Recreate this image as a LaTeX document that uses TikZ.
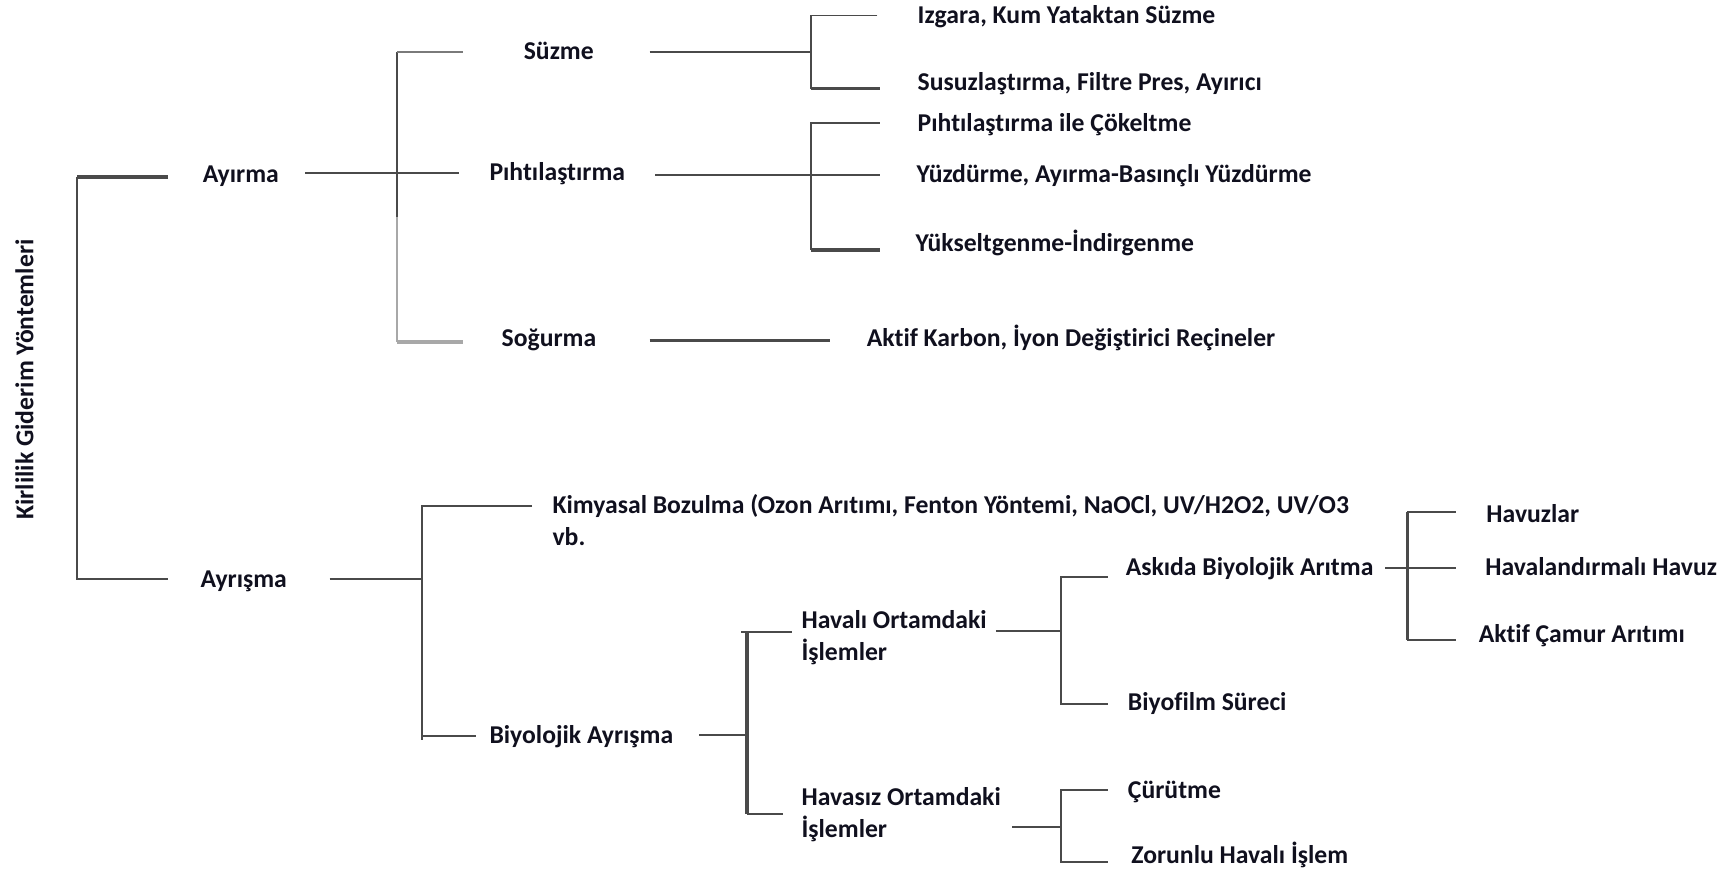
\documentclass[tikz,border=0pt]{standalone}
\usepackage{fontspec}
\setmainfont{Carlito}[Ligatures=NoCommon]
\definecolor{lndark}{HTML}{4A4A4A}
\definecolor{lnmid}{HTML}{7A7A7A}
\definecolor{lnlight}{HTML}{A8A8A8}
\definecolor{txt}{HTML}{10101E}
\begin{document}
\begin{tikzpicture}[x=0.5pt,y=-0.5pt,
  lbl/.style={anchor=base west,inner sep=0pt,text=txt,
    font=\fontsize{11.6}{14.5}\selectfont\bfseries,align=left},
  ln/.style={draw=lndark,line width=0.9pt},
  lnthick/.style={draw=lndark,line width=1.5pt},
  lngray/.style={draw=lnmid,line width=0.9pt},
  lnpale/.style={draw=lnlight,line width=1.5pt},
  lnpalev/.style={draw=lnlight,line width=1pt}]
\useasboundingbox (0,0) rectangle (1568,789);

% vertical title
\node[rotate=90,inner sep=0pt,text=txt,font=\fontsize{11.6}{14}\selectfont\bfseries]
  (title) at (22,343) {Kirlilik Giderim Yöntemleri};

% labels (baseline of the last line)
\node[lbl] (ayirma)   at (183,165) {Ayırma};
\node[lbl] (ayrisma)  at (181,531) {Ayrışma};
\node[lbl] (suzme)    at (473,54)  {Süzme};
\node[lbl] (pihti)    at (442,163) {Pıhtılaştırma};
\node[lbl] (sogurma)  at (453,313) {Soğurma};
\node[lbl] (izgara)   at (829,21)  {Izgara, Kum Yataktan Süzme};
\node[lbl] (susuz)    at (829,82)  {Susuzlaştırma, Filtre Pres, Ayırıcı};
\node[lbl] (pihtiile) at (829,119) {Pıhtılaştırma ile Çökeltme};
\node[lbl] (yuzdur)   at (828,165) {Yüzdürme, Ayırma-Basınçlı Yüzdürme};
\node[lbl] (yukselt)  at (827,227) {Yükseltgenme-İndirgenme};
\node[lbl] (aktifk)   at (783,313) {Aktif Karbon, İyon Değiştirici Reçineler};
\node[lbl] (kimyasal) at (499,493) {Kimyasal Bozulma (Ozon Arıtımı, Fenton Yöntemi, NaOCl, UV/H2O2, UV/O3\\vb.};
\node[lbl] (biyoayr)  at (442,672) {Biyolojik Ayrışma};
\node[lbl] (havali)   at (724,597) {Havalı Ortamdaki\\İşlemler};
\node[lbl] (havasiz)  at (724,757) {Havasız Ortamdaki\\İşlemler};
\node[lbl] (askida)   at (1017,520) {Askıda Biyolojik Arıtma};
\node[lbl] (biyofilm) at (1019,642) {Biyofilm Süreci};
\node[lbl] (havuzlar) at (1343,472) {Havuzlar};
\node[lbl] (havalan)  at (1342,520) {Havalandırmalı Havuz};
\node[lbl] (aktifc)   at (1336,581) {Aktif Çamur Arıtımı};
\node[lbl] (curutme)  at (1019,722) {Çürütme};
\node[lbl] (zorunlu)  at (1022,780) {Zorunlu Havalı İşlem};

% root bracket
\coordinate (rA) at (152,160);
\coordinate (rT) at (70,160);
\coordinate (rB) at (70,523);
\coordinate (rC) at (152,523);
\draw[lnthick] (rA) -- (rT);
\draw[ln] (rT) -- (rB) -- (rC);

% Ayırma branch
\coordinate (a0) at (276,156);
\coordinate (a1) at (415,156);
\coordinate (b1t) at (359,47);
\coordinate (b1m) at (359,196);
\coordinate (b1b) at (359,309);
\coordinate (s1) at (418,47);
\coordinate (g1) at (418,309);
\draw[ln] (a0) -- (a1);
\draw[ln] (b1t) -- (b1m);
\draw[lnpalev] (b1m) -- (b1b);
\draw[lngray] (b1t) -- (s1);
\draw[lnpale] (b1b) -- (g1);

% Süzme children
\coordinate (s2) at (587,47);
\coordinate (s3) at (733,47);
\coordinate (s4) at (733,14);
\coordinate (s5) at (793,14);
\coordinate (s6) at (733,80);
\coordinate (s7) at (795,80);
\draw[ln] (s2) -- (s3);
\draw[ln] (s5) -- (s4) -- (s6);
\draw[lnthick] (s6) -- (s7);

% Pıhtılaştırma children
\coordinate (p2) at (592,158);
\coordinate (p3) at (795,158);
\coordinate (p4) at (733,111);
\coordinate (p5) at (795,111);
\coordinate (p6) at (733,226);
\coordinate (p7) at (795,226);
\draw[ln] (p2) -- (p3);
\draw[ln] (p5) -- (p4) -- (p6);
\draw[lnthick] (p6) -- (p7);

% Soğurma child
\coordinate (g2) at (587,308);
\coordinate (g3) at (750,308);
\draw[lnthick] (g2) -- (g3);

% Ayrışma branch
\coordinate (y0) at (298,523);
\coordinate (y1) at (381,523);
\coordinate (y2) at (381,457);
\coordinate (y3) at (481,457);
\coordinate (y4) at (381,669);
\coordinate (y5) at (381,665);
\coordinate (y6) at (430,665);
\draw[ln] (y0) -- (y1);
\draw[ln] (y3) -- (y2) -- (y4);
\draw[ln] (y5) -- (y6);

% Biyolojik Ayrışma children
\coordinate (k0) at (632,664);
\coordinate (k1) at (675,664);
\coordinate (k2) at (675,571);
\coordinate (k3) at (675,736);
\coordinate (k4) at (670,571);
\coordinate (k5) at (716,571);
\coordinate (k6) at (708,736);
\draw[ln] (k0) -- (k1);
\draw[lnthick] (k2) -- (k3);
\draw[ln] (k4) -- (k5);
\draw[ln] (k3) -- (k6);

% Havalı Ortamdaki İşlemler children
\coordinate (h0) at (900,570);
\coordinate (h1) at (959,570);
\coordinate (h2) at (959,521);
\coordinate (h3) at (1001,521);
\coordinate (h4) at (959,636);
\coordinate (h5) at (1001,636);
\draw[ln] (h0) -- (h1);
\draw[ln] (h3) -- (h2) -- (h4) -- (h5);

% Askıda Biyolojik Arıtma children
\coordinate (q0) at (1252,513);
\coordinate (q1) at (1316,513);
\coordinate (q2) at (1272,463);
\coordinate (q3) at (1316,463);
\coordinate (q4) at (1272,578);
\coordinate (q5) at (1316,578);
\draw[ln] (q0) -- (q1);
\draw[lnthick] (q2) -- (q4);
\draw[ln] (q2) -- (q3);
\draw[ln] (q4) -- (q5);

% Havasız Ortamdaki İşlemler children
\coordinate (v0) at (915,747);
\coordinate (v1) at (959,747);
\coordinate (v2) at (959,714);
\coordinate (v3) at (1001,714);
\coordinate (v4) at (959,779);
\coordinate (v5) at (1001,779);
\draw[ln] (v0) -- (v1);
\draw[ln] (v3) -- (v2) -- (v4) -- (v5);
\end{tikzpicture}
\end{document}
